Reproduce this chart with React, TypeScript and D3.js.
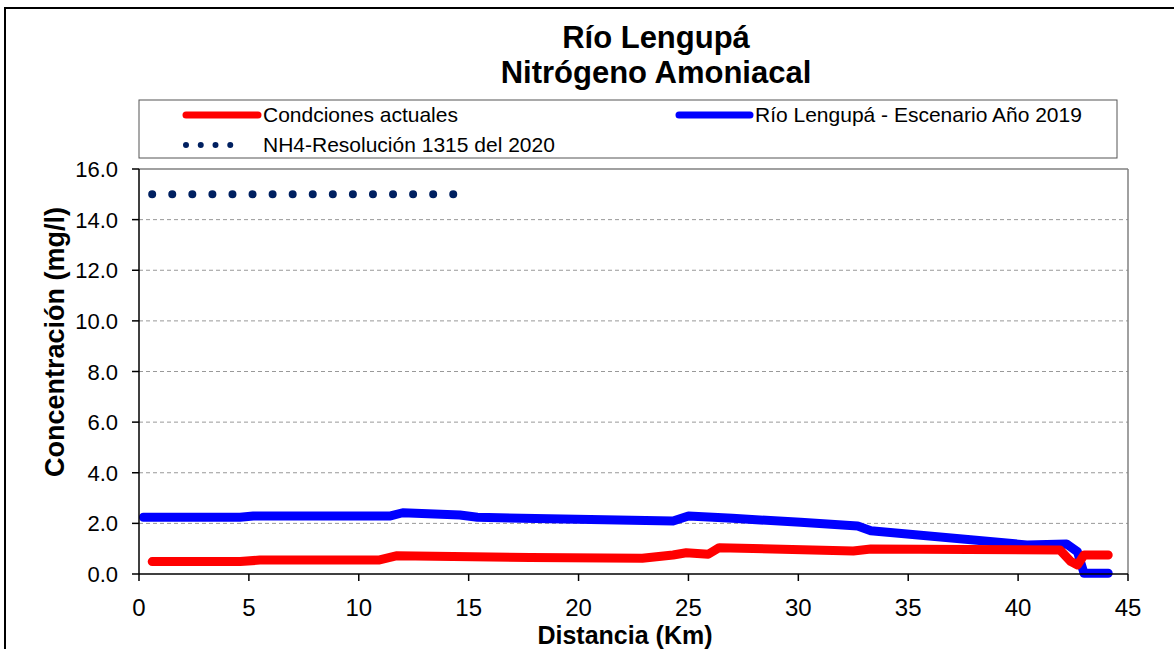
import React from "react";
import * as d3 from "d3";

const titleLines = ["Río Lengupá", "Nitrógeno Amoniacal"];
const yTicks = [0, 2, 4, 6, 8, 10, 12, 14, 16];
const xTicks = [0, 5, 10, 15, 20, 25, 30, 35, 40, 45];

const redX = [0.6, 4.6, 5.5, 10.9, 11.7, 17.8, 22.9, 24.3, 24.9, 25.9, 26.4, 32.5, 33.3, 41.9, 42.4, 42.7, 43.0, 44.1];
const redY = [0.49, 0.49, 0.55, 0.55, 0.72, 0.65, 0.62, 0.75, 0.84, 0.78, 1.04, 0.91, 0.99, 0.95, 0.49, 0.36, 0.75, 0.75];

const blueX = [0.2, 4.6, 5.2, 11.4, 12.0, 14.6, 15.4, 24.3, 25.0, 27.0, 30.1, 32.7, 33.3, 40.4, 42.2, 42.7, 43.0, 44.1];
const blueY = [2.24, 2.24, 2.29, 2.29, 2.42, 2.33, 2.24, 2.09, 2.29, 2.2, 2.04, 1.9, 1.71, 1.15, 1.19, 0.88, 0.03, 0.03];

const nh4X = [0.6, 14.3];
const nh4Y = [15, 15];

const seriesNames = ["Condciones actuales", "Río Lengupá - Escenario Año 2019", "NH4-Resolución 1315 del 2020"];

const FONT = "'Liberation Sans', Arial, sans-serif";

export default function App() {
  const left = 139, right = 1128, top = 169, bottom = 574;
  const x = d3.scaleLinear().domain([0, 45]).range([left, right]);
  const y = d3.scaleLinear().domain([0, 16]).range([bottom, top]);
  const line = d3.line<[number, number]>().x(d => x(d[0])).y(d => y(d[1]));
  const red = line(redX.map((v, i) => [v, redY[i]] as [number, number])) || "";
  const blue = line(blueX.map((v, i) => [v, blueY[i]] as [number, number])) || "";
  const nh4 = line(nh4X.map((v, i) => [v, nh4Y[i]] as [number, number])) || "";

  return (
    <svg width={1174} height={649} style={{ position: "absolute", left: 0, top: 0, background: "#fff" }}>
      <rect x={0} y={0} width={1174} height={649} fill="#fff" />
      <rect x={5} y={8} width={1200} height={700} fill="none" stroke="#000" strokeWidth={2} />
      <g fontFamily={FONT} fontWeight="bold" fontSize={31} textAnchor="middle" fill="#000">
        <text x={656} y={48}>{titleLines[0]}</text>
        <text x={656} y={83}>{titleLines[1]}</text>
      </g>
      {/* legend */}
      <rect x={139} y={100} width={978} height={58} fill="#fff" stroke="#555" strokeWidth={1} />
      <line x1={186} x2={258} y1={115} y2={115} stroke="#ff0000" strokeWidth={7} strokeLinecap="round" />
      <text x={263} y={122} fontFamily={FONT} fontSize={21}>{seriesNames[0]}</text>
      <line x1={679} x2={750} y1={115} y2={115} stroke="#0000ff" strokeWidth={7} strokeLinecap="round" />
      <text x={755} y={122} fontFamily={FONT} fontSize={21}>{seriesNames[1]}</text>
      <line x1={186} x2={245} y1={145} y2={145} stroke="#002060" strokeWidth={6} strokeLinecap="round" strokeDasharray="0 14.75" />
      <text x={263} y={152} fontFamily={FONT} fontSize={21}>{seriesNames[2]}</text>

      {/* grid */}
      {yTicks.filter(t => t > 0 && t < 16).map(t => (
        <line key={t} x1={left} x2={right} y1={y(t)} y2={y(t)} stroke="#999" strokeDasharray="4 3" strokeWidth={1} />
      ))}
      <line x1={left} x2={right} y1={top} y2={top} stroke="#808080" strokeWidth={1.5} />
      <line x1={right} x2={right} y1={top} y2={bottom} stroke="#808080" strokeWidth={1.5} />

      {/* series */}
      <path d={nh4} fill="none" stroke="#002060" strokeWidth={8} strokeLinecap="round" strokeDasharray="0 20.07" />
      <path d={blue} fill="none" stroke="#0000ff" strokeWidth={9} strokeLinejoin="round" strokeLinecap="round" />
      <path d={red} fill="none" stroke="#ff0000" strokeWidth={9} strokeLinejoin="round" strokeLinecap="round" />

      {/* axes */}
      <line x1={left} x2={left} y1={top} y2={bottom} stroke="#000" strokeWidth={1.5} />
      <line x1={left} x2={right} y1={bottom} y2={bottom} stroke="#000" strokeWidth={1.5} />
      {yTicks.map(t => (
        <g key={t}>
          <line x1={left - 7} x2={left} y1={y(t)} y2={y(t)} stroke="#000" strokeWidth={1.5} />
          <text x={118} y={y(t) + 8} textAnchor="end" fontFamily={FONT} fontSize={22}>{t.toFixed(1)}</text>
        </g>
      ))}
      {xTicks.map(t => (
        <g key={t}>
          <line x1={x(t)} x2={x(t)} y1={bottom} y2={bottom + 7} stroke="#000" strokeWidth={1.5} />
          <text x={x(t)} y={616} textAnchor="middle" fontFamily={FONT} fontSize={24}>{t}</text>
        </g>
      ))}
      <text x={625} y={644} textAnchor="middle" fontFamily={FONT} fontWeight="bold" fontSize={25}>Distancia (Km)</text>
      <text transform={`translate(64, 342) rotate(-90)`} textAnchor="middle" fontFamily={FONT} fontWeight="bold" fontSize={27}>Concentración (mg/l)</text>
    </svg>
  );
}
